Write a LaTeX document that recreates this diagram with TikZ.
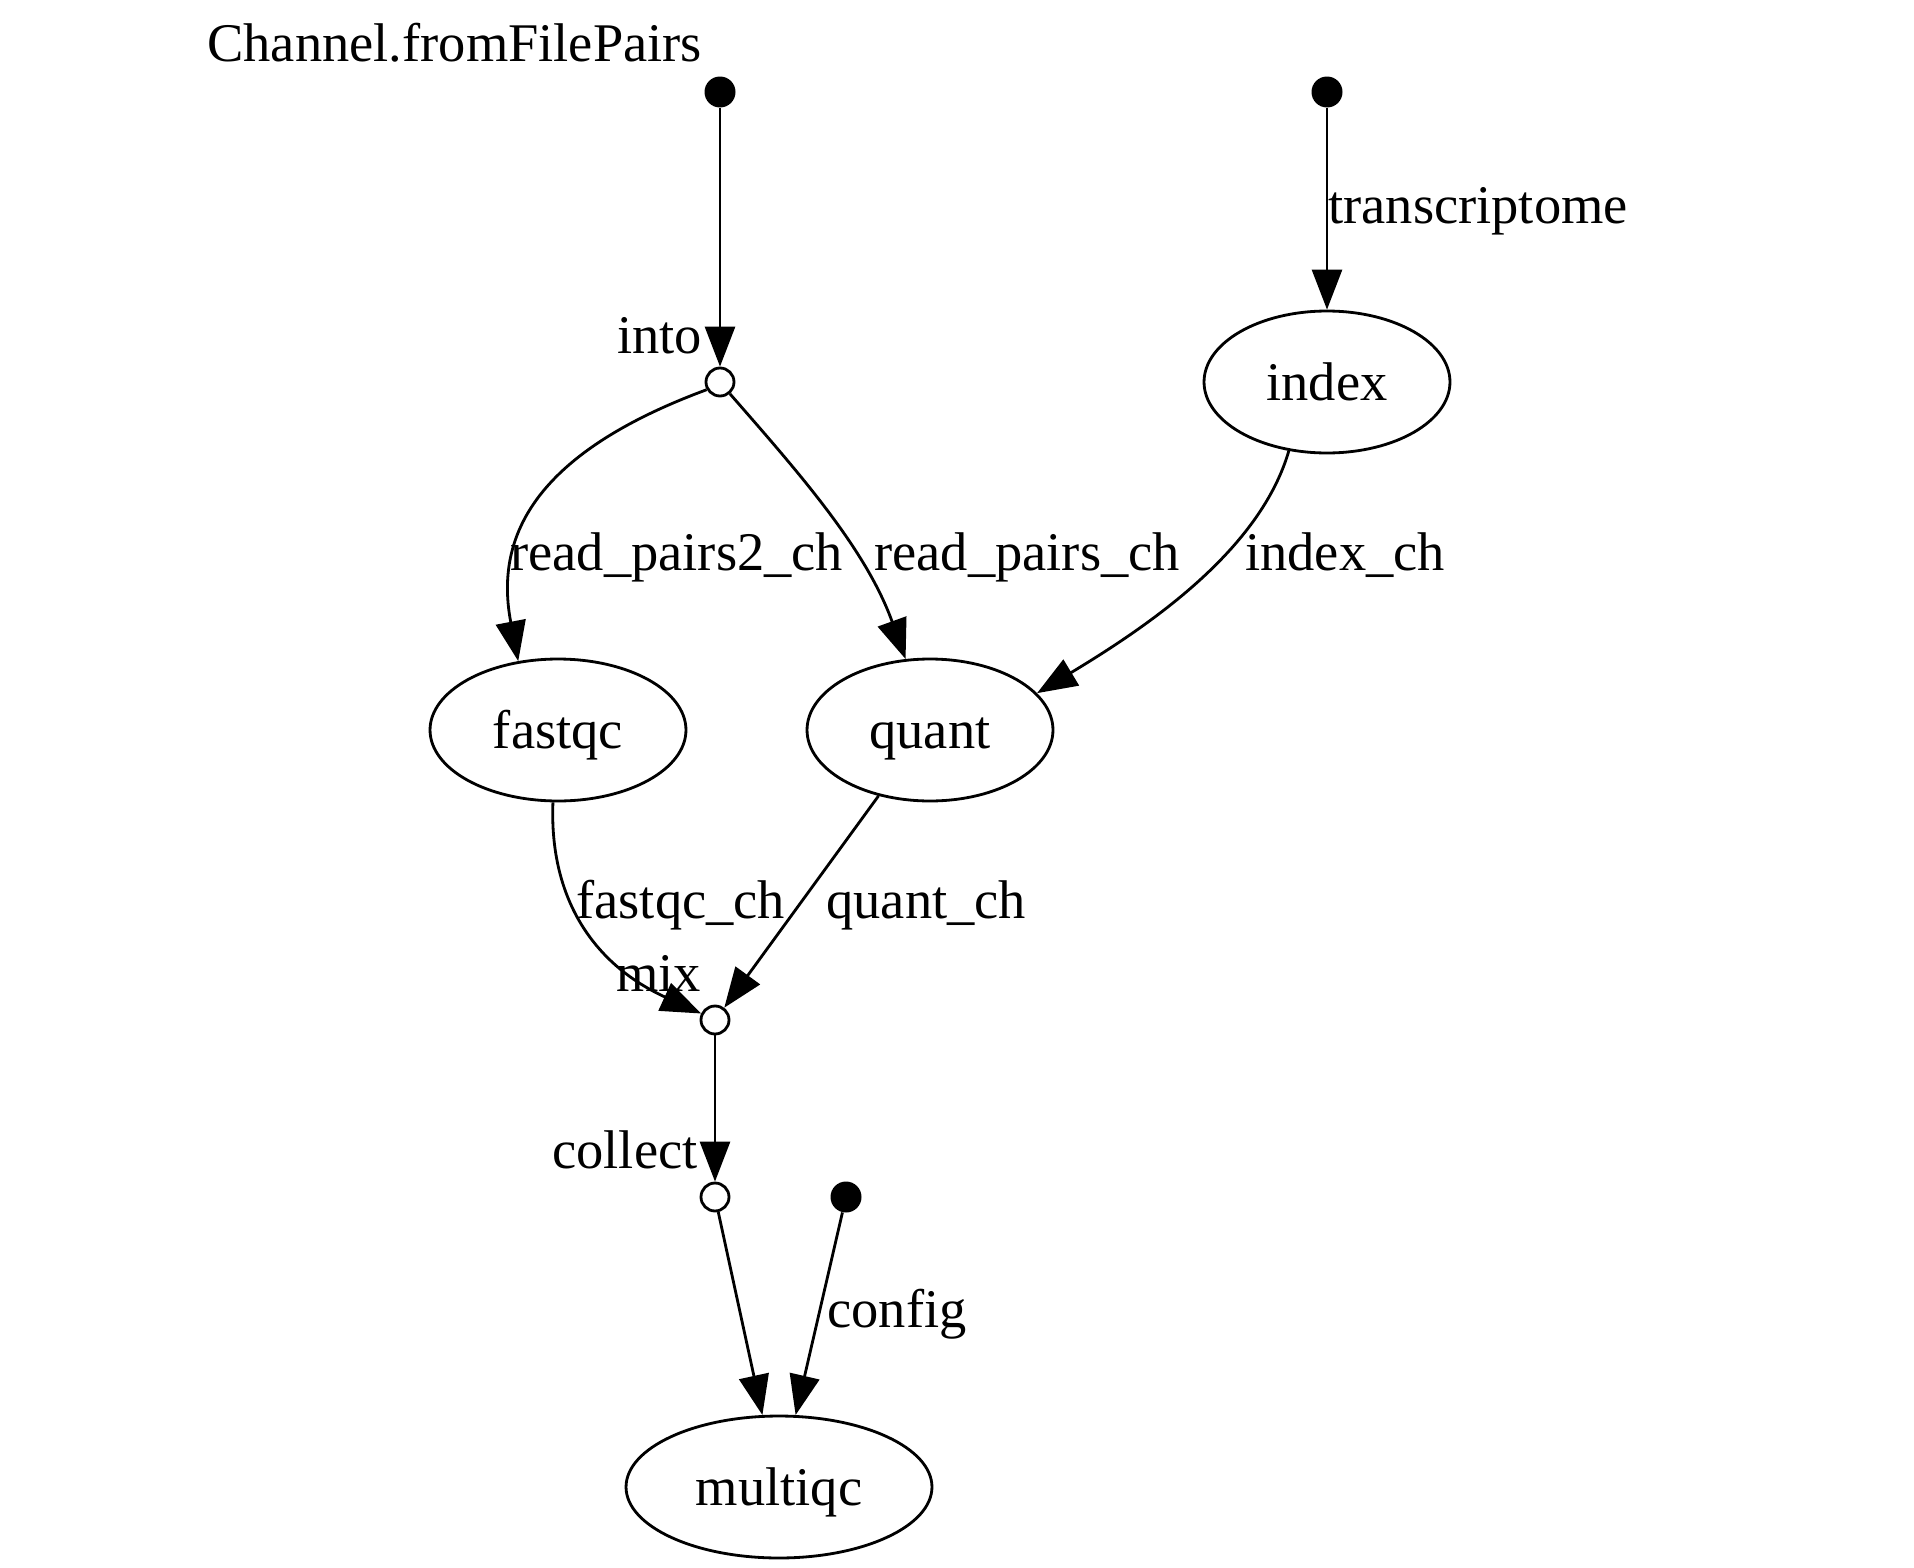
\documentclass[tikz,border=0pt]{standalone}
\usepackage{fontspec}
\setmainfont{Liberation Serif}
\usetikzlibrary{arrows.meta,calc,shapes.geometric}
\begin{document}
\begin{tikzpicture}[x=0.02cm,y=-0.02cm,
  every node/.style={font=\fontsize{31}{37}\selectfont},
  proc/.style={draw, ellipse, line width=1.6pt, minimum height=2.84cm, inner sep=0pt,
    text height=0.73cm, text depth=0cm},
  src/.style={circle, fill=black, minimum size=0.62cm, inner sep=0pt},
  op/.style={circle, draw, fill=white, line width=1.6pt, minimum size=0.56cm, inner sep=0pt},
  lbl/.style={anchor=base west, inner sep=0pt},
  edge/.style={line width=1.6pt, -{Triangle[length=0.8cm,width=0.6cm]}}]

\useasboundingbox (0,0) rectangle (1914,1568);

% channel sources and operators
\node[src] (s1) at (720,92) {};
\node[src] (s2) at (1327,92) {};
\node[src] (s3) at (846,1197) {};
\node[op] (into) at (720,382) {};
\node[op] (mix) at (715,1020) {};
\node[op] (collect) at (715,1197) {};

% processes
\node[proc, minimum width=4.92cm] (index) at (1327,382) {index};
\node[proc, minimum width=5.12cm] (fastqc) at (558,730) {fastqc};
\node[proc, minimum width=4.92cm] (quant) at (930,730) {quant};
\node[proc, minimum width=6.12cm] (multiqc) at (779,1487) {multiqc};

% labels
\node[lbl] (tFrom) at (207,62) {Channel.fromFilePairs};
\node[lbl] (tInto) at (617,353) {into};
\node[lbl] (tTrans) at (1328,223) {transcriptome};
\node[lbl] (tRp2) at (510,570) {read\_pairs2\_ch};
\node[lbl] (tRp) at (874,570) {read\_pairs\_ch};
\node[lbl] (tIdx) at (1245,570) {index\_ch};
\node[lbl] (tFq) at (576,918) {fastqc\_ch};
\node[lbl] (tQc) at (826,918) {quant\_ch};
\node[lbl] (tMix) at (616,991) {mix};
\node[lbl] (tCol) at (552,1168) {collect};
\node[lbl] (tCfg) at (827,1327) {config};

% connectors
\draw[edge] (s1) -- (into);
\draw[edge] (s2) -- (index);
\draw[edge] (into.210) .. controls (530,455) and (495,540) .. (fastqc.120);
\draw[edge] (into.-50) .. controls (800,474) and (866,549) .. (quant.109);
\draw[edge] (index.241) .. controls (1260,550) and (1150,625) .. (quant.19);
\draw[edge] (fastqc.266) .. controls (549,900) and (595,965) .. (mix.155);
\draw[edge] (quant.232) -- (mix.53);
\draw[edge] (mix) -- (collect);
\draw[edge] (collect) -- (multiqc.103);
\draw[edge] (s3) -- (multiqc.77);
\end{tikzpicture}
\end{document}
